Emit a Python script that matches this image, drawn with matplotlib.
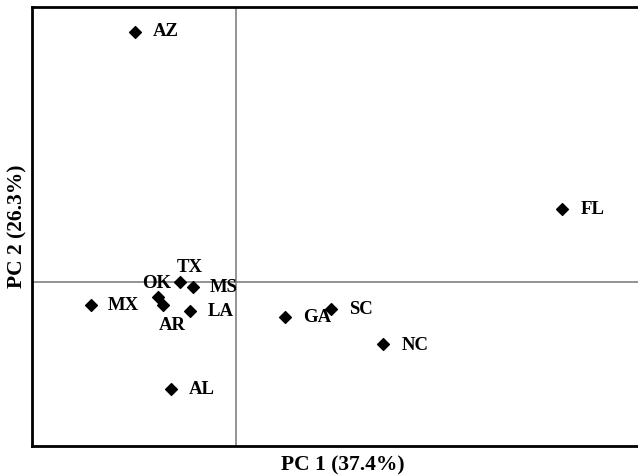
import matplotlib
matplotlib.use("Agg")
import matplotlib.pyplot as plt

states = ["AZ", "FL", "TX", "MS", "OK", "AR", "MX", "LA", "GA", "SC", "NC", "AL"]
pc1 = [-2.525, 8.15, -1.4, -1.075, -1.95, -1.825, -3.625, -1.15, 1.225, 2.375, 3.675, -1.625]
pc2 = [6.25, 1.825, 0.0, -0.125, -0.375, -0.575, -0.575, -0.725, -0.875, -0.675, -1.55, -2.675]
xlabel = "PC 1 (37.4%)"
ylabel = "PC 2 (26.3%)"

offsets = {
    "AZ": (18, 0, "left", "center"),
    "FL": (18, 0, "left", "center"),
    "TX": (10, 15, "center", "center"),
    "MS": (17, 0, "left", "center"),
    "OK": (-1, 14, "center", "center"),
    "AR": (9, -20, "center", "center"),
    "MX": (17, 0, "left", "center"),
    "LA": (18, 0, "left", "center"),
    "GA": (18, -1, "left", "center"),
    "SC": (18, 0, "left", "center"),
    "NC": (18, -1, "left", "center"),
    "AL": (18, -1, "left", "center"),
}

plt.rcParams['font.family'] = ['Liberation Serif', 'DejaVu Serif']

fig = plt.figure(figsize=(6.38, 4.75), dpi=100)
ax = fig.add_axes([32/638, 29/475, 1 - 32/638 + 0.01, (446-7)/475])
ax.set_xlim(-5.1, 10.2)
ax.set_ylim(-4.1, 6.875)
ax.axhline(0, color="#808080", lw=1.2, zorder=1)
ax.axvline(0, color="#808080", lw=1.2, zorder=1)
ax.scatter(pc1, pc2, marker="D", s=36, color="black", zorder=3)
for s, x, y in zip(states, pc1, pc2):
    dx, dy, ha, va = offsets[s]
    ax.annotate(s, (x, y), xytext=(dx, dy), textcoords="offset pixels",
                ha=ha, va=va, fontsize=13.5, fontweight="bold")
ax.set_xticks([])
ax.set_yticks([])
for side in ["left", "bottom", "top"]:
    ax.spines[side].set_linewidth(2)
    ax.spines[side].set_color("black")
ax.spines["right"].set_visible(False)
ax.set_xlabel(xlabel, fontsize=15.5, fontweight="bold")
ax.set_ylabel(ylabel, fontsize=15.5, fontweight="bold")
ax.xaxis.set_label_coords(0.507, -0.022)
ax.xaxis.label.set_va("top")
ax.yaxis.set_label_coords(-0.007, 0.5)
fig.savefig("out.png", dpi=100)
